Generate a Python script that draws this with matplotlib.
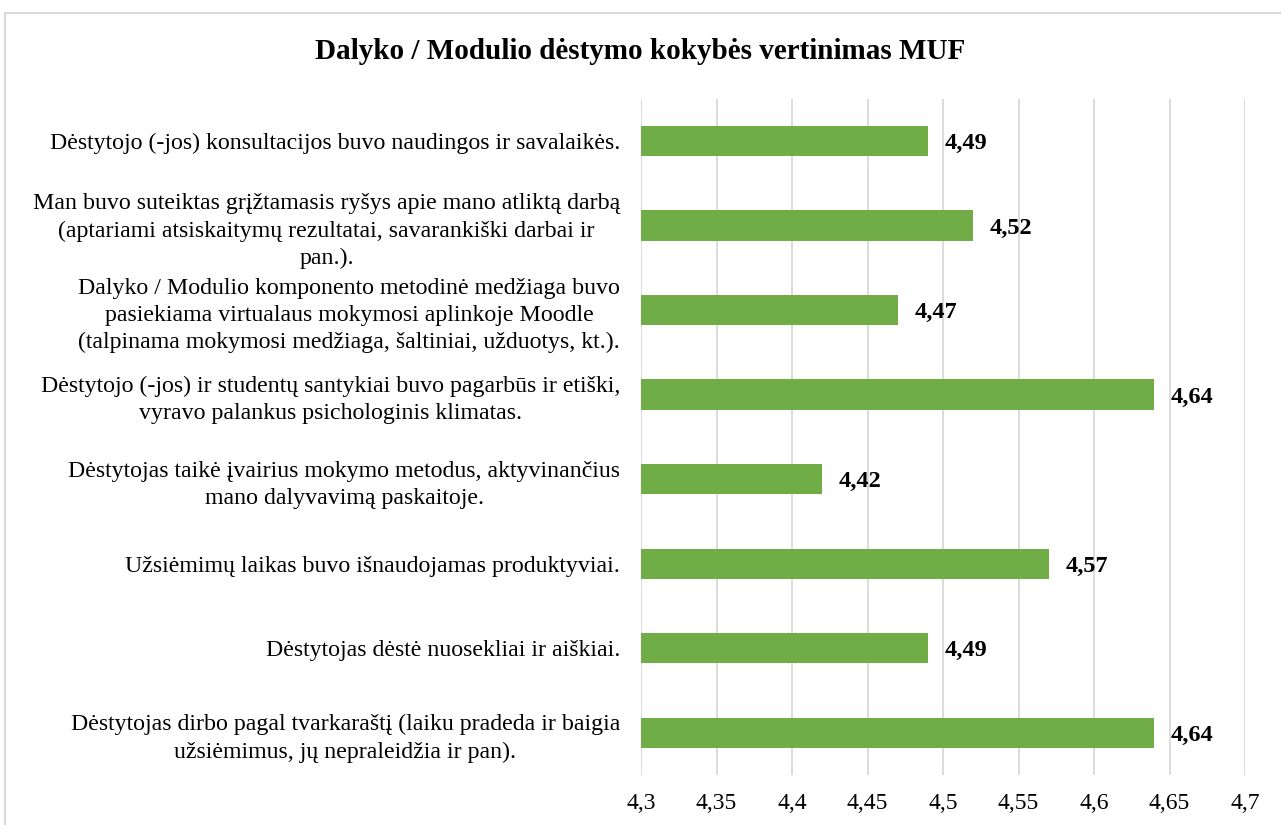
import matplotlib.pyplot as plt
from matplotlib.patches import Rectangle
from matplotlib.ticker import FuncFormatter

plt.rcParams['font.family'] = ['Liberation Serif', 'DejaVu Serif']

# data (top to bottom as shown)
questions = [
    "Dėstytojo (-jos) konsultacijos buvo naudingos ir savalaikės.",
    "Man buvo suteiktas grįžtamasis ryšys apie mano atliktą darbą\n(aptariami atsiskaitymų rezultatai, savarankiški darbai ir\npan.).",
    "Dalyko / Modulio komponento metodinė medžiaga buvo\npasiekiama virtualaus mokymosi aplinkoje Moodle\n(talpinama mokymosi medžiaga, šaltiniai, užduotys, kt.).",
    "Dėstytojo (-jos) ir studentų santykiai buvo pagarbūs ir etiški,\nvyravo palankus psichologinis klimatas.",
    "Dėstytojas taikė įvairius mokymo metodus, aktyvinančius\nmano dalyvavimą paskaitoje.",
    "Užsiėmimų laikas buvo išnaudojamas produktyviai.",
    "Dėstytojas dėstė nuosekliai ir aiškiai.",
    "Dėstytojas dirbo pagal tvarkaraštį (laiku pradeda ir baigia\nužsiėmimus, jų nepraleidžia ir pan).",
]
scores = [4.49, 4.52, 4.47, 4.64, 4.42, 4.57, 4.49, 4.64]
xticks = [4.3, 4.35, 4.4, 4.45, 4.5, 4.55, 4.6, 4.65, 4.7]

fig = plt.figure(figsize=(12.81, 8.25), dpi=100)
ax = fig.add_axes([0.5004, 0.0606, 0.4715, 0.8195])

# light border around the chart area
fig.patches.append(Rectangle((5 / 1281, -0.05), 1.1, (825 - 13) / 825 + 0.05,
                             transform=fig.transFigure, fill=False,
                             edgecolor='#D9D9D9', linewidth=1.5))

pos = list(range(len(scores)))[::-1]
ax.barh(pos, [s - 4.3 for s in scores], left=4.3, height=0.36,
        color='#70AD47', zorder=3)

for p, s in zip(pos, scores):
    ax.text(s + 0.011, p, f"{s:.2f}".replace('.', ','), va='center_baseline',
            ha='left', fontsize=17.5, fontweight='bold')

ax.set_xlim(4.3, 4.7)
ax.set_ylim(-0.5, len(scores) - 0.5)
ax.set_xticks(xticks)
ax.xaxis.set_major_formatter(FuncFormatter(lambda v, _: f"{v:g}".replace('.', ',')))
ax.set_yticks(pos)
ax.set_yticklabels(questions, multialignment='center', fontsize=17.2,
                   linespacing=1.38)
ax.tick_params(axis='y', length=0, pad=15)
ax.tick_params(axis='x', length=0, pad=13, labelsize=17)
ax.grid(axis='x', color='#D9D9D9', linewidth=1.3, zorder=0)
for sp in ax.spines.values():
    sp.set_visible(False)

fig.text(0.5, 0.937, "Dalyko / Modulio dėstymo kokybės vertinimas MUF",
         ha='center', va='center', fontsize=21, fontweight='bold')

fig.savefig('out.png', dpi=100)
